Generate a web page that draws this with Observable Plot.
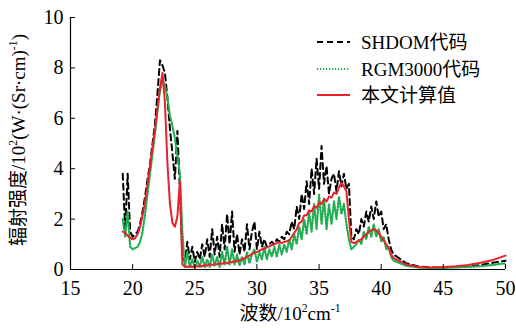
<!DOCTYPE html>
<html><head><meta charset="utf-8">
<script src="https://cdn.jsdelivr.net/npm/d3@7"></script>
<script src="https://cdn.jsdelivr.net/npm/@observablehq/plot@0.6"></script>
<style>body{margin:0;background:#fff} svg{display:block}</style>
</head><body><div id="chart"></div>
<script>
const wavenumber = [
19.2,19.4,19.6,19.8,20,20.2,20.4,20.6,20.8,21,
21.2,21.4,21.6,21.8,22,22.2,22.4,22.6,22.8,23,
23.2,23.4,23.6,23.8,24,24.2,24.4,24.6,24.8,25,
25.2,25.4,25.6,25.8,26,26.2,26.4,26.6,26.8,27,
27.2,27.4,27.6,27.8,28,28.2,28.4,28.6,28.8,29,
29.2,29.4,29.6,29.8,30,30.2,30.4,30.6,30.8,31,
31.2,31.4,31.6,31.8,32,32.2,32.4,32.6,32.8,33,
33.2,33.4,33.6,33.8,34,34.2,34.4,34.6,34.8,35,
35.2,35.4,35.6,35.8,36,36.2,36.4,36.6,36.8,37,
37.2,37.4,37.6,37.8,38,38.2,38.4,38.6,38.8,39,
39.2,39.4,39.6,39.8,40,40.2,40.4,40.6,40.8,41,
42,43,44,45,46,47,48,49,50];
const shdom = [
3.8,1.6,3.8,1.5,1.3,1.4,1.5,1.8,2.3,2.9,
3.6,4.2,5.0,5.8,7.0,8.3,8.1,7.8,6.8,5.6,
4.6,3.6,5.5,3.2,0.6,0.3,1.1,0.4,0.9,0.3,
0.7,0.4,1.0,0.5,1.2,0.5,1.6,0.6,1.3,0.5,
1.8,0.8,2.2,1.0,2.3,0.7,1.4,0.6,1.2,0.7,
1.8,0.8,1.5,1.9,0.8,1.5,0.9,1.2,0.9,1.0,
1.1,1.0,1.2,1.1,1.3,1.2,1.5,1.4,1.9,1.6,
2.5,2.0,3.0,2.4,3.5,2.6,4.0,3.0,4.4,3.2,
4.9,3.4,4.1,3.0,3.6,3.8,3.1,3.9,3.3,3.8,
3.2,3.4,1.3,1.2,1.6,1.4,2.0,1.7,2.3,1.9,
2.5,2.0,2.7,2.1,2.3,1.6,1.8,1.2,0.8,0.6,
0.25,0.12,0.08,0.08,0.1,0.12,0.18,0.27,0.35];
const rgm3000 = [
2.0,1.3,2.3,0.9,0.8,0.85,0.9,1.1,1.5,2.2,
3.0,3.8,4.6,5.4,6.3,7.1,7.5,7.3,6.8,6.1,
5.7,5.2,4.5,3.8,1.5,0.1,0.7,0.1,0.4,0.05,
0.35,0.1,0.5,0.1,0.4,0.1,0.6,0.15,0.5,0.1,
0.7,0.2,0.9,0.2,0.8,0.2,0.6,0.15,0.5,0.2,
0.7,0.25,0.6,0.8,0.3,0.7,0.4,0.9,0.4,0.8,
0.5,0.9,0.5,1.0,0.6,1.0,0.7,1.2,0.8,1.4,
1.0,1.7,1.2,2.0,1.4,2.3,1.5,2.6,1.6,3.0,
1.8,2.8,1.6,2.6,1.8,2.7,2.0,2.9,2.2,2.6,
1.8,1.2,0.8,0.9,1.0,1.2,1.0,1.5,1.2,1.7,
1.3,1.8,1.3,1.6,1.1,1.3,0.8,0.9,0.5,0.35,
0.15,0.08,0.05,0.06,0.08,0.1,0.13,0.18,0.25];
const computed = [
1.5,1.45,1.35,1.25,1.2,1.25,1.4,1.7,2.15,2.7,
3.4,4.1,4.85,5.6,6.4,7.2,7.8,6.6,4.2,2.6,
1.85,1.7,2.1,3.5,0.2,0.12,0.1,0.14,0.1,0.13,
0.12,0.16,0.12,0.18,0.15,0.22,0.17,0.22,0.2,0.25,
0.22,0.28,0.24,0.3,0.28,0.34,0.32,0.38,0.4,0.45,
0.5,0.55,0.62,0.66,0.7,0.75,0.8,0.82,0.88,0.92,
0.97,1.0,1.05,1.08,1.05,1.1,1.12,1.15,1.3,1.45,
1.6,1.85,1.9,2.15,2.15,2.35,2.3,2.5,2.45,2.65,
2.6,2.8,2.7,2.9,2.85,3.05,3.0,3.25,3.45,3.3,
3.1,2.0,1.1,1.05,1.1,1.15,1.2,1.3,1.4,1.5,
1.55,1.6,1.55,1.45,1.3,1.15,1.0,0.85,0.6,0.45,
0.2,0.1,0.08,0.1,0.13,0.18,0.27,0.38,0.55];
const xTicks = [15,20,25,30,35,40,45,50];
const yTicks = [0,2,4,6,8,10];
const seriesNames = ["SHDOM代码","RGM3000代码","本文计算值"];
const seriesColors = ["#000000","#22ad52","#e8212b"];
const seriesDash = ["6,4","1.2,1.8",null];

const rows = vals => wavenumber.map((w,i)=>({w, v: vals[i]}));
const serif = "'Liberation Serif','Times New Roman','Noto Sans CJK SC',serif";

const chart = Plot.plot({
  width:516, height:328, marginLeft:70, marginRight:11, marginTop:17, marginBottom:59,
  style:{fontFamily: serif, background:"#fff", color:"#000", overflow:"visible"},
  x:{domain:[15,50], label:null},
  y:{domain:[0,10], label:null},
  marks:[
    Plot.line(rows(shdom), {x:"w", y:"v", stroke:seriesColors[0], strokeWidth:2, strokeDasharray:seriesDash[0]}),
    Plot.line(rows(rgm3000), {x:"w", y:"v", stroke:seriesColors[1], strokeWidth:2.2, strokeDasharray:seriesDash[1]}),
    Plot.line(rows(computed), {x:"w", y:"v", stroke:seriesColors[2], strokeWidth:2}),
    Plot.ruleY([0], {stroke:"#000", strokeWidth:1.2}),
    Plot.ruleX([15], {stroke:"#000", strokeWidth:1.2}),
    Plot.axisX({ticks:xTicks, tickSize:-5, tickPadding:16, fontSize:20, label:null, stroke:"#000"}),
    Plot.axisY({ticks:yTicks, tickSize:-5, tickPadding:12, fontSize:20, label:null, stroke:"#000"})
  ]
});
document.getElementById("chart").appendChild(chart);

const svg = d3.select(chart);
const fs = 19;
function addSup(t, parts){
  parts.forEach(p=>{
    const ts = t.append("tspan").text(p.t);
    if (p.sup) ts.attr("font-size", fs*0.62).attr("dy", -fs*0.4);
    else if (p.after) ts.attr("dy", fs*0.4);
  });
}
// y label
const yl = svg.append("text").attr("transform","translate(25,140) rotate(-90)")
  .attr("text-anchor","middle").attr("font-size",fs).attr("font-family",serif).attr("fill","#000");
addSup(yl, [{t:"辐射强度/10"},{t:"2",sup:true},{t:"(W·(Sr·cm)",after:true},{t:"-1",sup:true},{t:")",after:true}]);
// x label
const xl = svg.append("text").attr("transform","translate(290,320)")
  .attr("text-anchor","middle").attr("font-size",fs).attr("font-family",serif).attr("fill","#000");
addSup(xl, [{t:"波数/10"},{t:"2",sup:true},{t:"cm",after:true},{t:"-1",sup:true}]);
// legend
const ly = [42,69,95];
seriesNames.forEach((n,i)=>{
  svg.append("line").attr("x1",317).attr("x2",350).attr("y1",ly[i]).attr("y2",ly[i])
    .attr("stroke",seriesColors[i]).attr("stroke-width",2)
    .attr("stroke-dasharray",seriesDash[i]);
  svg.append("text").attr("x",361).attr("y",ly[i]+7).attr("font-size",fs).attr("font-family",serif)
    .attr("text-anchor","start").attr("fill","#000").text(n);
});
</script></body></html>
